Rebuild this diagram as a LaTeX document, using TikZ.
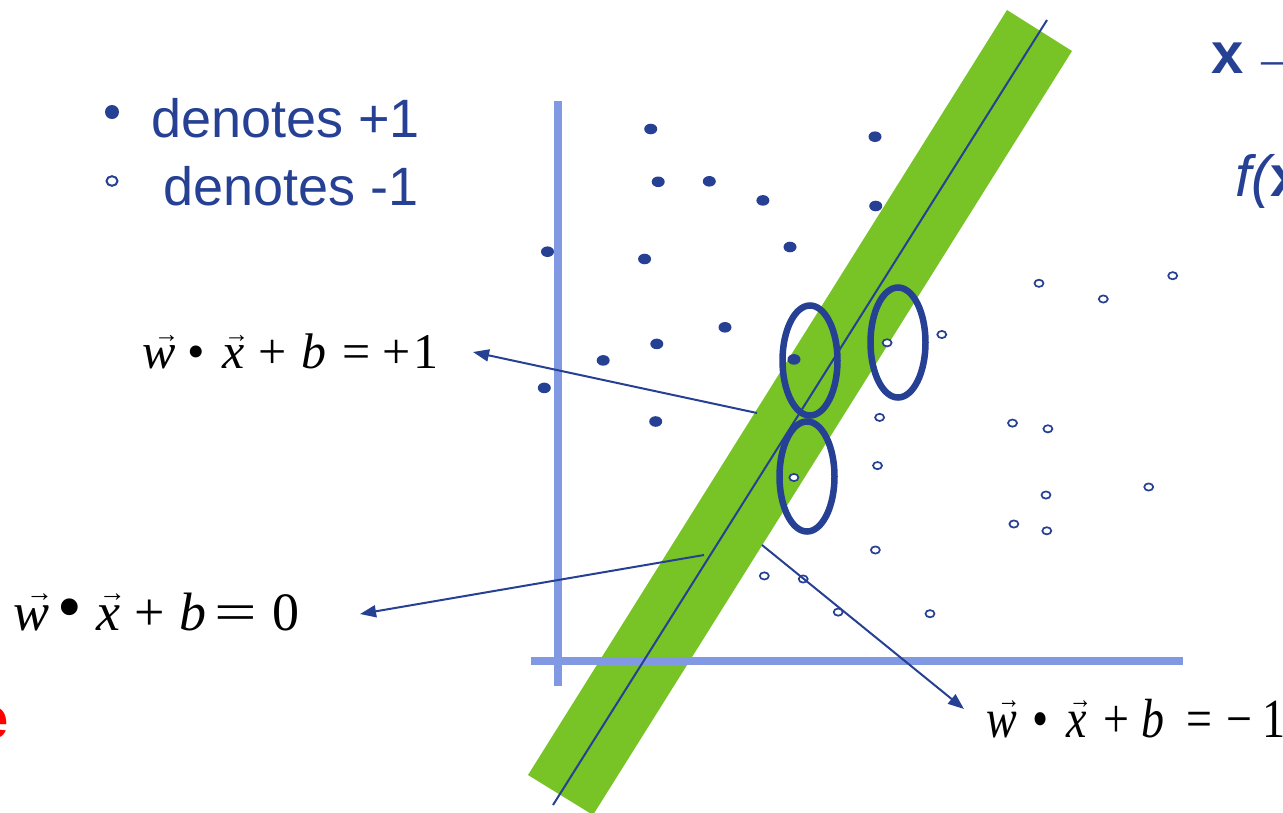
\documentclass[tikz,border=0pt]{standalone}
\usepackage{fontspec}
\setmainfont{Liberation Serif}
\newfontfamily\sansf{Liberation Sans}
\usetikzlibrary{arrows.meta}
\definecolor{dblue}{RGB}{38,64,148}
\definecolor{lblue}{RGB}{128,153,226}
\definecolor{sgreen}{RGB}{120,195,38}
\definecolor{sred}{RGB}{255,0,0}
\newcommand\vecw{\rlap{\kern0.24em\raisebox{0.52em}{\scalebox{0.5}{→}}}\textit{w}}
\newcommand\vecx{\rlap{\kern0.04em\raisebox{0.52em}{\scalebox{0.5}{→}}}\textit{x}}
\begin{document}
\begin{tikzpicture}[x=1pt,y=-1pt,
  fillpt/.style={fill=dblue},
  openpt/.style={draw=dblue,line width=1.7pt,fill=white},
  ring/.style={draw=dblue,line width=6.5pt},
  axis/.style={draw=lblue,line width=8pt},
  conn/.style={draw=dblue,line width=2pt,-{Triangle[length=16pt,width=12pt]}},
  fml/.style={inner sep=0pt,text=black},
  legend/.style={inner sep=0pt,text=dblue,font=\sansf\fontsize{54}{60}\selectfont},
  toptxt/.style={inner sep=0pt,text=dblue,font=\sansf\fontsize{58}{64}\selectfont}]
\useasboundingbox (0,0) rectangle (1283,812);
\clip (0,0) rectangle (1283,812);
% margin band
\fill[sgreen] (1007,10) -- (1072,51) -- (593,815) -- (528,775) -- cycle;
% axes
\draw[axis] (558,101) -- (558,686);
\draw[axis] (531,661) -- (1183,661);
% separating line
\draw[dblue,line width=2pt] (1047,20) -- (553,805);
% positive points
\foreach \p in {(650.7,129),(875,136.7),(658.2,181.8),(709.3,181.3),(762.9,200.4),
  (875.7,206),(547.5,251.7),(644.6,259),(790,247),(725,327.3),(656.8,343.9),
  (603.2,360.4),(794,359.4),(544.3,387.9),(655.7,421.5)}
  \fill[fillpt] \p ellipse[x radius=6.5,y radius=5.3];
% negative points
\foreach \p in {(1039,283.3),(1103.3,299),(1172.7,275.7),(941.8,334.5),(887.1,342.8),
  (879.6,417.4),(1012.5,423.1),(1047.9,428.8),(877.5,465.6),(793.9,477.5),
  (1046,495),(1148.7,487),(1013.9,524),(1046.8,530.8),(875.4,550),(764.3,575.9),
  (803.2,579),(838.2,612.1),(930,613.7)}
  \draw[openpt] \p ellipse[x radius=4.5,y radius=3.6];
% support vector rings
\draw[ring] (810,360.5) ellipse[x radius=27.5,y radius=55];
\draw[ring] (898,342.5) ellipse[x radius=27.5,y radius=55];
\draw[ring] (807,476.5) ellipse[x radius=27.5,y radius=55];
% legend
\fill[dblue] (112,112) circle[radius=7];
\node[legend,anchor=base west] (l1) at (151,137) {denotes +1};
\draw[dblue,line width=2pt] (112,181) ellipse[x radius=5.5,y radius=4.8];
\node[legend,anchor=base west] (l2) at (163,205) {denotes -1};
% top right text
\node[toptxt,anchor=base west] (t1) at (1211,73) {\bfseries x\hspace{6pt}\mdseries →};
\node[toptxt,anchor=base west] (t2) at (1235,196) {\itshape f(\upshape\bfseries x};
\node[inner sep=0pt,text=sred,font=\sansf\bfseries\fontsize{58}{64}\selectfont,anchor=base east] (t3) at (9,738) {e};
% formulas
\node[fml,font=\fontsize{50}{56}\selectfont,anchor=base west] (f1) at (142,368)
  {\vecw\hspace{12pt}•\hspace{17pt}\vecx\hspace{14pt}+\hspace{15pt}\textit{b}\hspace{16pt}=\hspace{12pt}+\hspace{3pt}1};
\node[fml,font=\fontsize{54}{60}\selectfont,anchor=base west] (f2) at (13,630)
  {\vecw\hspace{8pt}\scalebox{1.3}{•}\hspace{15pt}\vecx\hspace{14pt}+\hspace{14pt}\textit{b}\hspace{8pt}\scalebox{1.4}[1]{=}\hspace{16pt}0};
\node[fml,font=\fontsize{46}{52}\selectfont,anchor=base west] (f3) at (986,737)
  {\scalebox{1}[1.2]{\vecw\hspace{16pt}•\hspace{18pt}\vecx\hspace{16pt}+\hspace{12.6pt}\textit{b}\hspace{21.5pt}=\hspace{14pt}−\hspace{10.6pt}1}};
% connectors
\coordinate (s1) at (757,413);
\coordinate (s2) at (704,555);
\coordinate (s3) at (762,545);
\draw[conn] (s1) -- ([xshift=34pt,yshift=16pt]f1.base east);
\draw[conn] (s2) -- ([xshift=60pt,yshift=16pt]f2.base east);
\draw[conn] (s3) -- ([xshift=-22pt,yshift=28pt]f3.base west);
\end{tikzpicture}
\end{document}
